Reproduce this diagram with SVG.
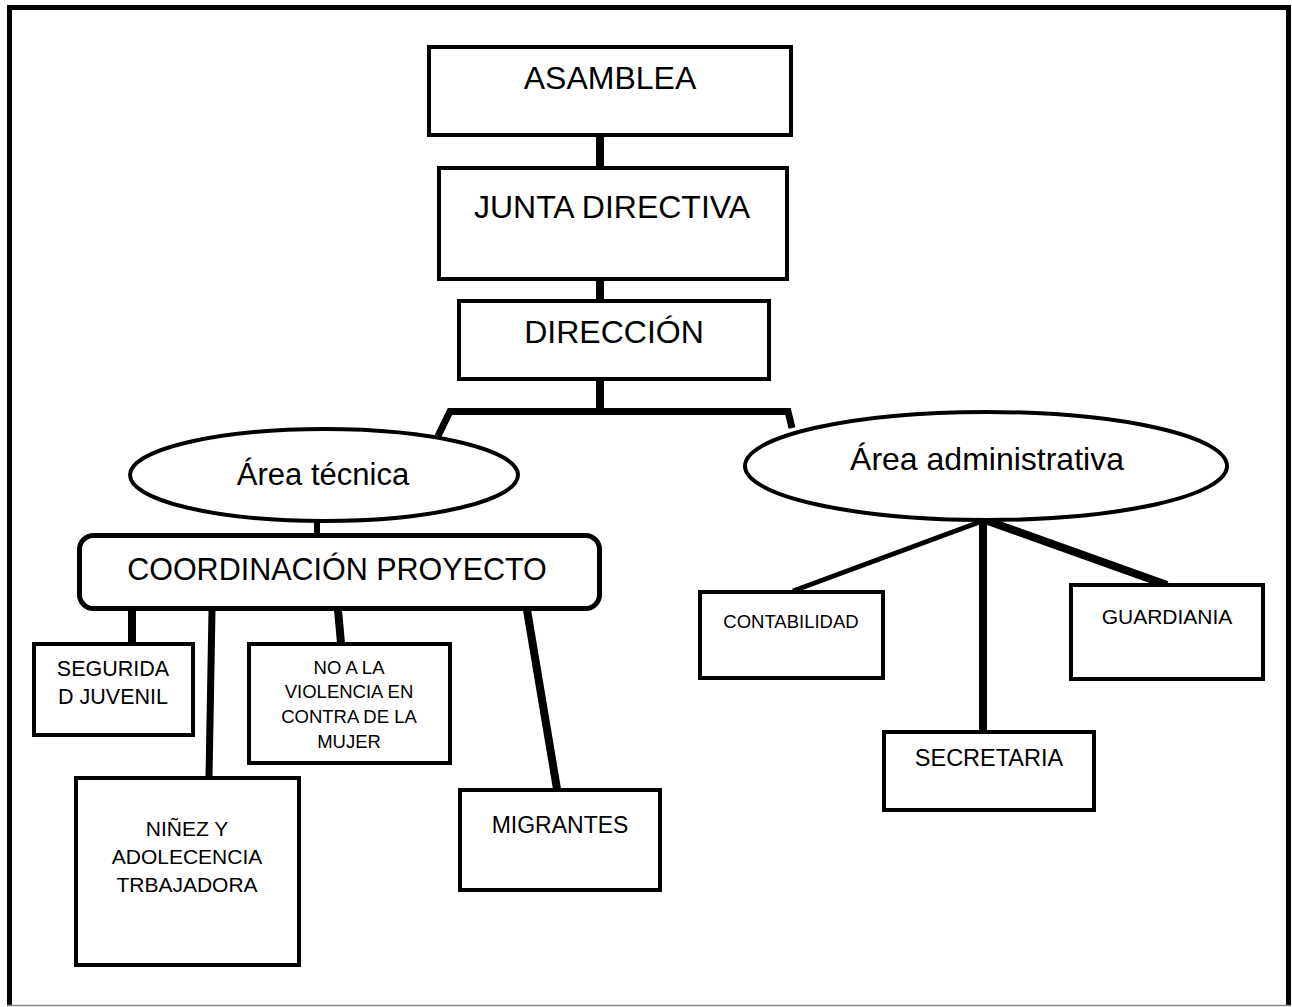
<svg xmlns="http://www.w3.org/2000/svg" width="1292" height="1007" viewBox="0 0 1292 1007">
<style>
  .box { fill: #fff; stroke: #000; stroke-width: 4; }
  .ell { fill: #fff; stroke: #000; stroke-width: 4; }
  .ln { fill: none; stroke: #000; stroke-width: 8; stroke-linecap: butt; }
  text { font-family: "Liberation Sans", Arial, sans-serif; fill: #000; text-anchor: middle; }
  .t32 { font-size: 32px; }
  .t31 { font-size: 31px; }
</style>
<rect x="0" y="0" width="1292" height="1007" fill="#fff"/>
<g id="border">
  <path d="M9.5,1006 V7.5 H1288.5 V1006" fill="none" stroke="#000" stroke-width="5"/>
  <path d="M7,1005.5 H1291" fill="none" stroke="#888" stroke-width="1.5"/>
</g>
<g id="connectors">
  <path class="ln" d="M600,137 V166"/>
  <path class="ln" d="M600,281 V299"/>
  <path class="ln" d="M600,381 V411"/>
  <path class="ln" stroke-width="7" d="M438,436 L450,411.5 H788 L792,428" style="stroke-width:7;stroke-linejoin:miter"/>
  <path class="ln" style="stroke-width:6" d="M317,521 V535"/>
  <path class="ln" d="M132,610 V643"/>
  <path class="ln" style="stroke-width:7" d="M212,610 L209,778"/>
  <path class="ln" d="M338,610 L341,643"/>
  <path class="ln" d="M527,610 L557,789"/>
  <path class="ln" style="stroke-width:5" d="M985,520 L793,591"/>
  <path class="ln" d="M983,520 V733"/>
  <path class="ln" style="stroke-width:8" d="M985,520 L1167,585"/>
</g>
<g id="n-asamblea">
  <rect class="box" x="429" y="47" width="362" height="88"/>
  <text class="t32" x="610" y="89">ASAMBLEA</text>
</g>
<g id="n-junta">
  <rect class="box" x="439" y="168" width="348" height="111"/>
  <text class="t32" x="612" y="218">JUNTA DIRECTIVA</text>
</g>
<g id="n-direccion">
  <rect class="box" x="459" y="301" width="310" height="78"/>
  <text class="t32" x="614" y="343">DIRECCIÓN</text>
</g>
<g id="n-area-tecnica">
  <ellipse class="ell" cx="324" cy="475" rx="194" ry="46"/>
  <text class="t31" x="323" y="485">Área técnica</text>
</g>
<g id="n-area-admin">
  <ellipse class="ell" cx="986" cy="466" rx="241" ry="54"/>
  <text class="t31" x="987" y="470" style="font-size:32px">Área administrativa</text>
</g>
<g id="n-coordinacion">
  <rect class="box" x="79.5" y="535.5" width="520" height="73" rx="14" style="stroke-width:5"/>
  <text x="337" y="580" style="font-size:30.5px">COORDINACIÓN PROYECTO</text>
</g>
<g id="n-seguridad">
  <rect class="box" x="34" y="644" width="159" height="91"/>
  <text x="113" y="676" style="font-size:21.5px">SEGURIDA</text>
  <text x="113" y="704" style="font-size:21.5px">D JUVENIL</text>
</g>
<g id="n-ninez">
  <rect class="box" x="76" y="778" width="223" height="187"/>
  <text x="187" y="836" style="font-size:21px">NIÑEZ Y</text>
  <text x="187" y="864" style="font-size:21px">ADOLECENCIA</text>
  <text x="187" y="892" style="font-size:21px">TRBAJADORA</text>
</g>
<g id="n-violencia">
  <rect class="box" x="249" y="644" width="201" height="119"/>
  <text x="349" y="674" style="font-size:18.5px">NO A LA</text>
  <text x="349" y="698" style="font-size:18.5px">VIOLENCIA EN</text>
  <text x="349" y="723" style="font-size:18.5px">CONTRA DE LA</text>
  <text x="349" y="748" style="font-size:18.5px">MUJER</text>
</g>
<g id="n-migrantes">
  <rect class="box" x="460" y="790" width="200" height="100"/>
  <text x="560" y="833" style="font-size:23px">MIGRANTES</text>
</g>
<g id="n-contabilidad">
  <rect class="box" x="700" y="592" width="183" height="86"/>
  <text x="791" y="628" style="font-size:18.5px">CONTABILIDAD</text>
</g>
<g id="n-guardiania">
  <rect class="box" x="1071" y="585" width="192" height="94"/>
  <text x="1167" y="624" style="font-size:21px">GUARDIANIA</text>
</g>
<g id="n-secretaria">
  <rect class="box" x="884" y="732" width="210" height="78"/>
  <text x="989" y="766" style="font-size:23.5px">SECRETARIA</text>
</g>
</svg>
